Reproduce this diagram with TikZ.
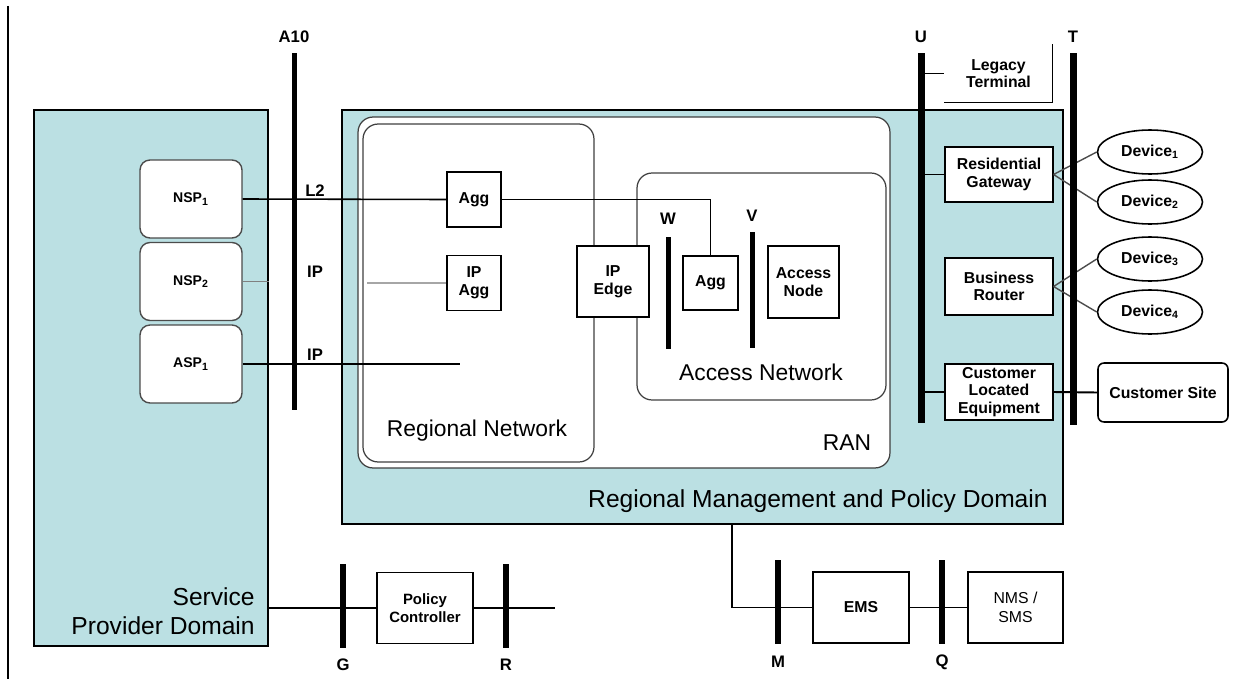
\documentclass[tikz,border=0pt]{standalone}
\usepackage{fontspec}
\setmainfont{Liberation Sans}
\usetikzlibrary{shapes.geometric}
\definecolor{domainblue}{RGB}{187,224,227}

\begin{document}
\begin{tikzpicture}[x=0.02cm,y=-0.02cm,
  domainbox/.style={draw,line width=1.1pt,fill=domainblue,inner sep=0pt},
  netbox/.style={draw=black!75,line width=0.7pt,rounded corners=0.3cm,fill=white,inner sep=0pt},
  sp node/.style={draw=black!70,line width=0.8pt,rounded corners=0.2cm,fill=white,
    minimum width=2.04cm,minimum height=1.56cm,font=\bfseries\fontsize{8}{9}\selectfont},
  eqbox/.style={draw,line width=0.6pt,fill=white,align=center,inner sep=1pt,
    font=\bfseries\fontsize{9}{10}\selectfont},
  devnode/.style={ellipse,draw,line width=0.9pt,fill=white,minimum width=2.1cm,
    minimum height=0.88cm,inner sep=0pt,font=\bfseries\fontsize{9}{10}\selectfont},
  refbar/.style={fill=black,inner sep=0pt,minimum width=0.1cm},
  ifclbl/.style={font=\bfseries\fontsize{9.5}{10}\selectfont,inner sep=0pt},
  biglbl/.style={font=\fontsize{14}{16.5}\selectfont,inner sep=0pt},
  netlbl/.style={font=\fontsize{13}{15}\selectfont,inner sep=0pt}]

  \useasboundingbox (0,0) rectangle (1247,679);
  \draw[line width=1.7pt] (8,6) -- (8,679);

  % domains
  \node[domainbox,minimum width=4.68cm,minimum height=10.72cm] (spd) at (151,378) {};
  \node[domainbox,minimum width=14.42cm,minimum height=8.28cm] (rmpd) at (702.5,317) {};
  \node[netbox,minimum width=10.64cm,minimum height=7.02cm] (ran) at (624,292.5) {};
  \node[netbox,minimum width=4.62cm,minimum height=6.76cm] (regnet) at (478.5,293) {};
  \node[netbox,minimum width=4.98cm,minimum height=4.54cm] (accnet) at (761.5,286.5) {};

  \node[biglbl,anchor=south east,align=right] (spdlbl) at (255,635) {Service\\Provider Domain};
  \node[biglbl,anchor=south east] (rmpdlbl) at (1048,513) {Regional Management and Policy Domain};
  \node[netlbl] (ranlbl) at (847,443) {RAN};
  \node[netlbl] (regnetlbl) at (477,431) {Regional Network};
  \node[netlbl] (accnetlbl) at (761,372) {Access Network};

  \node[sp node] (nsp1) at (191,199) {NSP\textsubscript{1}};
  \node[sp node] (nsp2) at (191,281.5) {NSP\textsubscript{2}};
  \node[sp node] (asp1) at (191,364) {ASP\textsubscript{1}};

  \node[eqbox,minimum width=1.08cm,minimum height=1.1cm] (agg1) at (474,199.5) {Agg};
  \node[eqbox,minimum width=1.08cm,minimum height=1.1cm] (ipagg) at (474,283) {IP\\Agg};
  \node[eqbox,minimum width=1.44cm,minimum height=1.42cm] (ipedge) at (613,281.5) {IP\\Edge};
  \node[eqbox,minimum width=1.1cm,minimum height=1.08cm] (agg2) at (710.5,283) {Agg};
  \node[eqbox,minimum width=1.42cm,minimum height=1.44cm] (an) at (803.5,282) {Access\\Node};

  \node[eqbox,draw=none,minimum width=2.14cm,minimum height=1.14cm] (lt) at (998.5,73.5) {Legacy\\Terminal};
  \draw[line width=0.6pt] (lt.north east) -- (lt.south east) -- (lt.south west);
  \node[eqbox,minimum width=2.16cm,minimum height=1.1cm] (rg) at (999,174.5) {Residential\\Gateway};
  \node[eqbox,minimum width=2.16cm,minimum height=1.14cm] (br) at (999,286.5) {Business\\Router};
  \node[eqbox,minimum width=2.16cm,minimum height=1.12cm] (cle) at (999,392) {Customer\\Located\\Equipment};
  \node[devnode] (dev1) at (1150,152) {Device\textsubscript{1}};
  \node[devnode] (dev2) at (1150,202) {Device\textsubscript{2}};
  \node[devnode] (dev3) at (1150,259) {Device\textsubscript{3}};
  \node[devnode] (dev4) at (1150,312) {Device\textsubscript{4}};
  \node[eqbox,line width=0.9pt,rounded corners=0.12cm,minimum width=2.6cm,minimum height=1.18cm] (cs) at (1163,392.5) {Customer Site};

  \node[eqbox,minimum width=1.92cm,minimum height=1.42cm,font=\bfseries\fontsize{8.5}{10}\selectfont] (pc) at (425,608) {Policy\\Controller};
  \node[eqbox,minimum width=1.92cm,minimum height=1.42cm] (ems) at (861,607.5) {EMS};
  \node[eqbox,minimum width=1.9cm,minimum height=1.42cm,font=\fontsize{9}{10.5}\selectfont] (nms) at (1015.5,607.5) {NMS /\\SMS};

  \coordinate (ipstub) at (367,283);
  \coordinate (aspend) at (460,364);
  \coordinate (rend) at (555,608);
  \coordinate (mtap) at (732,524);

  \draw[black!70,line width=0.8pt] (rg.east) -- (dev1.west) (rg.east) -- (dev2.west)
    (br.east) -- (dev3.west) (br.east) -- (dev4.west);
  \draw[line width=0.9pt] (nsp1.east) -- (agg1.west);
  \draw[gray,line width=0.8pt] (nsp2.east) -- (nsp2.east -| spd.east);
  \draw[gray!70,line width=0.8pt] (ipstub) -- (ipagg.west);
  \draw[line width=0.7pt] (asp1.east) -- (aspend);
  \draw[line width=0.6pt] (agg1.east) -| (agg2.north);
  \draw[line width=1.1pt] (cle.east) -- (cs.west);

  % reference points
  \node[refbar,minimum height=7.14cm] (a10) at (294,231.5) {};
  \node[refbar,minimum height=2.24cm] (w) at (668,293) {};
  \node[refbar,minimum height=2.32cm] (v) at (752,290) {};
  \node[refbar,minimum width=0.14cm,minimum height=7.4cm] (u) at (921,238) {};
  \node[refbar,minimum width=0.14cm,minimum height=7.44cm] (t) at (1073,239) {};
  \node[refbar,minimum width=0.12cm,minimum height=1.68cm] (g) at (343,606) {};
  \node[refbar,minimum width=0.12cm,minimum height=1.68cm] (r) at (506,606) {};
  \node[refbar,minimum width=0.12cm,minimum height=1.68cm] (m) at (778,602) {};
  \node[refbar,minimum width=0.12cm,minimum height=1.68cm] (q) at (942,602) {};

  \node[ifclbl] (a10lbl) at (294,37) {A10};
  \node[ifclbl] (wlbl) at (668,219) {W};
  \node[ifclbl] (vlbl) at (752,216) {V};
  \node[ifclbl] (ulbl) at (921,37) {U};
  \node[ifclbl] (tlbl) at (1073,37) {T};
  \node[ifclbl] (glbl) at (343,665) {G};
  \node[ifclbl] (rlbl) at (506,665) {R};
  \node[ifclbl] (mlbl) at (778,662) {M};
  \node[ifclbl] (qlbl) at (942,662) {Q};
  \node[ifclbl] (l2) at (315,191) {L2};
  \node[ifclbl] (ip1) at (315,272) {IP};
  \node[ifclbl] (ip2) at (315,355) {IP};

  \draw[line width=1.1pt] (lt.west -| u) -- (lt.west);
  \draw[line width=1.1pt] (rg.west -| u) -- (rg.west);
  \draw[line width=1.1pt] (cle.west -| u) -- (cle.west);
  \draw[line width=1.1pt] (pc.west -| spd.east) -- (pc.west);
  \draw[line width=1.1pt] (pc.east) -- (rend);
  \draw[line width=1.1pt] (mtap) |- (ems.west);
  \draw[line width=1.1pt] (ems.east) -- (nms.west);

\end{tikzpicture}
\end{document}
